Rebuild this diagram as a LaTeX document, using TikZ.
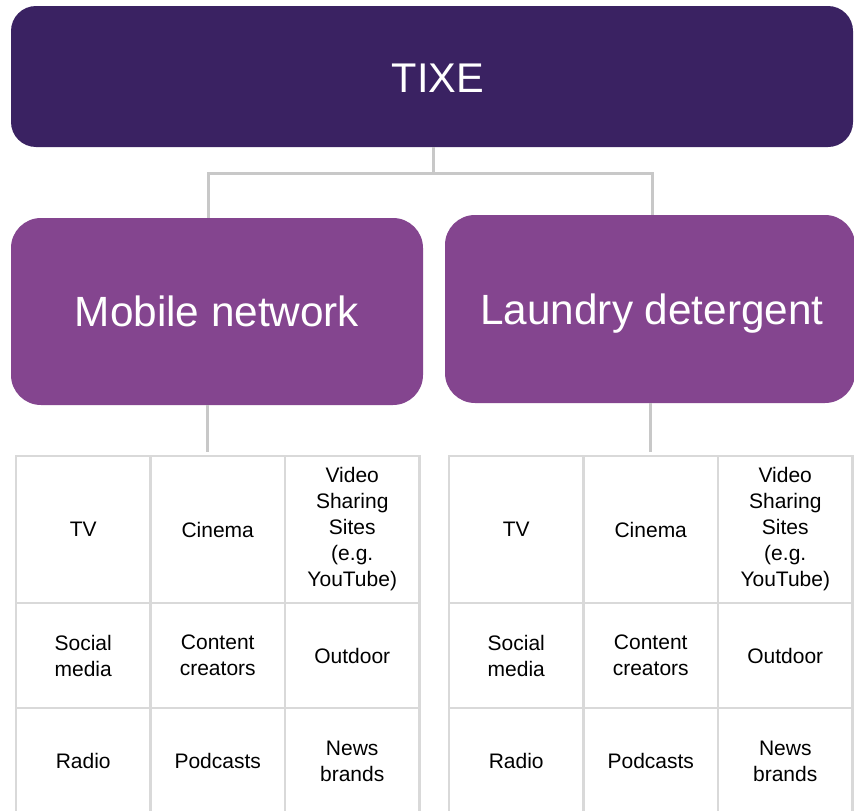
\documentclass[tikz,border=0pt]{standalone}
\usepackage{fontspec}
\setmainfont{Liberation Sans}
\definecolor{darkpurple}{HTML}{3A2262}
\definecolor{boxpurple}{HTML}{84458F}
\definecolor{conngray}{HTML}{C8C8C8}
\definecolor{gridgray}{HTML}{D9D9D9}
\tikzset{
  bigtext/.style={text=white, font=\fontsize{42.3}{50}\selectfont, text depth=0pt},
  topbar/.style={rectangle, rounded corners=25pt, fill=darkpurple,
    minimum width=842pt, minimum height=141pt, inner sep=0pt},
  catbox/.style={rectangle, rounded corners=30pt, fill=boxpurple, bigtext,
    minimum height=187pt, inner sep=0pt},
  conn/.style={draw=conngray, line width=3pt},
  cell/.style={rectangle, draw=gridgray, line width=2.5pt, minimum width=134.5pt,
    inner sep=0pt, align=center, text=black, font=\fontsize{21}{26}\selectfont},
  rowa/.style={cell, minimum height=147pt},
  rowb/.style={cell, minimum height=105pt},
  rowc/.style={cell, minimum height=106pt},
}
\newcommand\mediagrid[2]{%
  % #1 prefix, #2 left x
  \node[rowa] (#1a1) at (#2+67.25,529.5) {TV};
  \node[rowa] (#1a2) at (#2+201.75,529.5) {Cinema};
  \node[rowa] (#1a3) at (#2+336.25,529.5) {Video\\Sharing\\Sites\\(e.g.\\YouTube)};
  \node[rowb] (#1b1) at (#2+67.25,655.5) {Social\\media};
  \node[rowb] (#1b2) at (#2+201.75,655.5) {Content\\creators};
  \node[rowb] (#1b3) at (#2+336.25,655.5) {Outdoor};
  \node[rowc] (#1c1) at (#2+67.25,761) {Radio};
  \node[rowc] (#1c2) at (#2+201.75,761) {Podcasts};
  \node[rowc] (#1c3) at (#2+336.25,761) {News\\brands};
}
\begin{document}
\begin{tikzpicture}[x=1pt,y=-1pt]
\useasboundingbox (0,0) rectangle (854,811);
\clip (0,0) rectangle (854,811);
\fill[white] (0,0) rectangle (854,811);

\node[topbar, label={[bigtext, font=\fontsize{41.5}{50}\selectfont, xshift=6pt, yshift=-2pt]center:TIXE}] (top) at (432,76.5) {};
\node[catbox, minimum width=412pt] (mob) at (217,311.5) {Mobile network};
\node[catbox, minimum width=410pt, minimum height=188pt] (lau) at (650,309) {\hspace*{4pt}Laundry detergent};

\coordinate (jl) at (208,173);
\coordinate (jr) at (652,173);
\coordinate (jm) at (433,173);
\draw[conn] (top.south -| jm) -- (jm);
\draw[conn] (mob.north -| jl) -- (jl) -- (jr) -- (lau.north -| jr);

\mediagrid{L}{16}
\mediagrid{R}{449}

\coordinate (ml) at (207,452);
\coordinate (mr) at (650,452);
\draw[conn] (mob.south -| ml) -- (ml);
\draw[conn] (lau.south -| mr) -- (mr);
\end{tikzpicture}
\end{document}
